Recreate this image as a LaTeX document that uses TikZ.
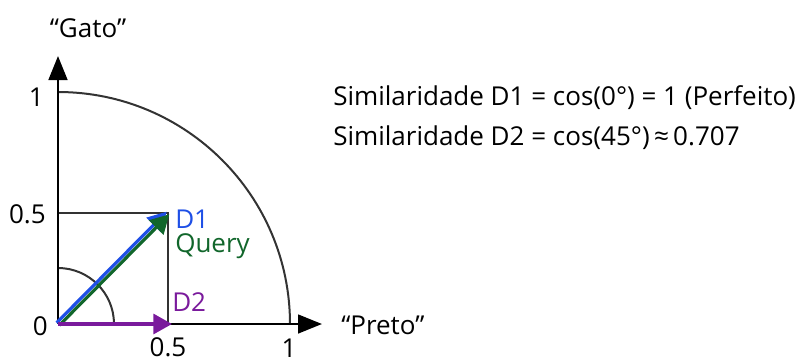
\documentclass[tikz,border=0pt]{standalone}
\usepackage{fontspec}
\setmainfont{Open Sans}
\usetikzlibrary{arrows.meta}

\definecolor{dblue}{HTML}{1E4FE6}
\definecolor{qgreen}{HTML}{11662B}
\definecolor{dpurple}{HTML}{7A1A9C}

\begin{document}
\begin{tikzpicture}[x=0.75pt,y=-0.75pt,
  axis/.style={line width=2pt,-{Triangle[length=18pt,width=14pt]}},
  guide/.style={line width=1.5pt,draw=black!80},
  vec/.style={line width=2.4pt,-{Triangle[length=14pt,width=15pt]}},
  lbl/.style={font=\fontsize{19.5}{23}\selectfont,inner sep=0pt}]

  \useasboundingbox (0,0) rectangle (804,358);

% define the points
  \coordinate (O)  at (58,324);
  \coordinate (xt) at (322,324);
  \coordinate (yt) at (58,56);
  \coordinate (P)  at (168,213);
  \coordinate (Px) at (168,324);
  \coordinate (Py) at (58,213);
  \coordinate (Q)  at (172,324);

% unit circle and angle mark
  \draw[guide] (58,92) arc (-90:0:232);
  \draw[guide] (58,268) arc (-90:0:56);
  \draw[guide] (Py) -- (P) -- (Px);

% axes
  \draw[axis] (O) -- (xt);
  \draw[axis] (O) -- (yt);

% document and query vectors
  \draw[vec,dblue] ([shift={(-1.3,-1.3)}]O) -- ([shift={(-1.3,-1.3)}]P);
  \draw[vec,qgreen] ([shift={(1.3,1.3)}]O) -- ([shift={(1.3,1.3)}]P);
  \draw[vec,dpurple] (O) -- (Q);

% tick labels
  \node[lbl,anchor=base east] (y1)  at (44,106) {1};
  \node[lbl,anchor=base east] (y05) at (46,223) {0.5};
  \node[lbl,anchor=base east] (y0)  at (48,335) {0};
  \node[lbl,anchor=base]      (x05) at (168,356) {0.5};
  \node[lbl,anchor=base]      (x1)  at (289,357) {1};

% axis names
  \node[lbl,anchor=base] (gato) at (88,37) {“Gato”};
  \node[lbl,anchor=base west] (preto) at (341,334) {“Preto”};

% vector names
  \node[lbl,anchor=base west,text=dblue]   (d1)    at (175,228) {D1};
  \node[lbl,anchor=base west,text=qgreen]  (query) at (175,252) {Query};
  \node[lbl,anchor=base west,text=dpurple] (d2)    at (172,311) {D2};

% similarity values
  \node[lbl,anchor=base west] (sim1) at (333,105) {Similaridade D1 = cos(0°) = 1 (Perfeito)};
  \node[lbl,anchor=base west] (sim2) at (333,145) {Similaridade D2 = cos(45°)\,≈\,0.707};
\end{tikzpicture}
\end{document}
